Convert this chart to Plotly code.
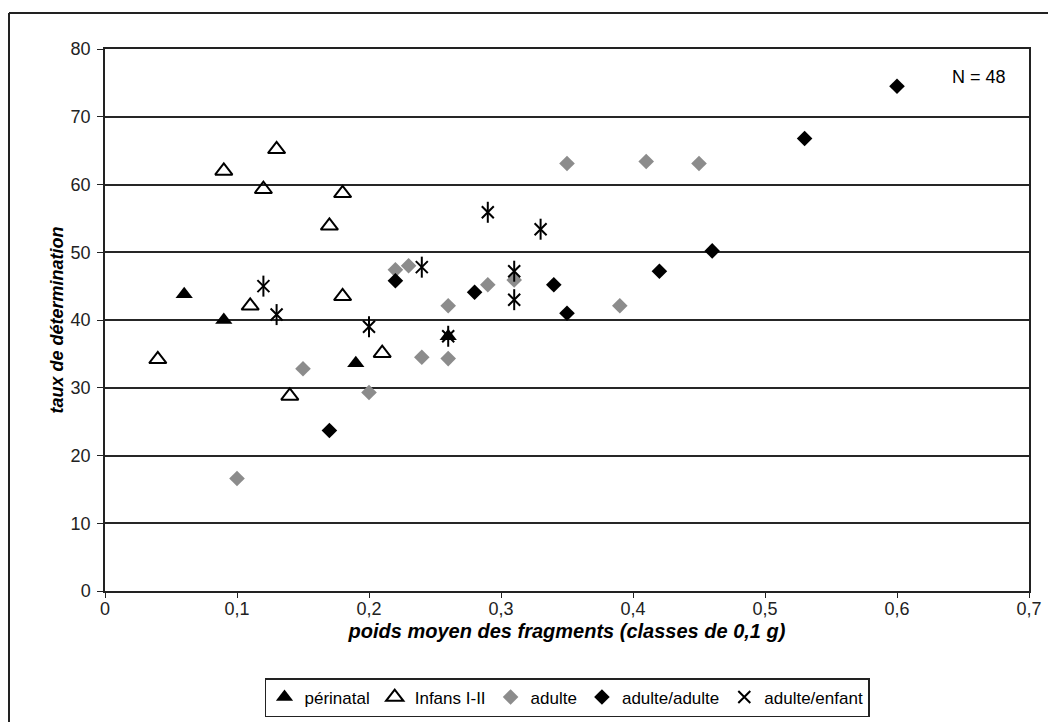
import plotly.graph_objects as go

# ---- data ----
perinatal_x = [0.06, 0.09, 0.19, 0.26]
perinatal_y = [43.8, 40.0, 33.6, 37.6]

infans_x = [0.04, 0.09, 0.11, 0.12, 0.13, 0.14, 0.17, 0.18, 0.18, 0.21]
infans_y = [34.2, 62.0, 42.1, 59.3, 65.2, 28.8, 53.9, 58.7, 43.5, 35.1]

adulte_x = [0.10, 0.15, 0.20, 0.22, 0.23, 0.24, 0.26, 0.26, 0.29, 0.31, 0.35, 0.39, 0.41, 0.45]
adulte_y = [16.6, 32.8, 29.3, 47.4, 48.0, 34.5, 34.3, 42.1, 45.2, 45.9, 63.1, 42.1, 63.4, 63.1]

aa_x = [0.17, 0.22, 0.28, 0.34, 0.35, 0.42, 0.46, 0.53, 0.60]
aa_y = [23.7, 45.8, 44.1, 45.2, 41.0, 47.2, 50.2, 66.8, 74.5]

ae_x = [0.12, 0.13, 0.20, 0.24, 0.26, 0.29, 0.31, 0.31, 0.33]
ae_y = [45.0, 40.8, 39.0, 47.8, 37.6, 55.9, 47.2, 43.0, 53.4]

x_ticks = [0, 0.1, 0.2, 0.3, 0.4, 0.5, 0.6, 0.7]
y_ticks = [0, 10, 20, 30, 40, 50, 60, 70, 80]

FONT = "Liberation Sans, Arial, sans-serif"

# page has an 8px body margin; figure sized so it fits the 1056x722 window
W, H = 1048, 714
L, T, PW, PH = 97, 41, 924, 542

fig = go.Figure()
fig.add_trace(go.Scatter(x=perinatal_x, y=perinatal_y, mode="markers", name="périnatal",
                         marker=dict(symbol="triangle-up", size=15, color="black")))
fig.add_trace(go.Scatter(x=infans_x, y=infans_y, mode="markers", name="Infans I-II",
                         marker=dict(symbol="triangle-up-open", size=15, color="black",
                                     line=dict(width=2, color="black"))))
fig.add_trace(go.Scatter(x=adulte_x, y=adulte_y, mode="markers", name="adulte",
                         marker=dict(symbol="diamond", size=12, color="#8c8c8c")))
fig.add_trace(go.Scatter(x=aa_x, y=aa_y, mode="markers", name="adulte/adulte",
                         marker=dict(symbol="diamond", size=12, color="black")))
fig.add_trace(go.Scatter(x=ae_x, y=ae_y, mode="markers", name="adulte/enfant", legendgroup="ae",
                         marker=dict(symbol="x-thin-open", size=12, color="black",
                                     line=dict(width=2, color="black"))))
fig.add_trace(go.Scatter(x=ae_x, y=ae_y, mode="markers", name="adulte/enfant", legendgroup="ae",
                         showlegend=False, hoverinfo="skip",
                         marker=dict(symbol="line-ns-open", size=15, color="black",
                                     line=dict(width=2, color="black"))))

fig.update_layout(
    width=W, height=H,
    margin=dict(l=L, r=W - L - PW, t=T, b=H - T - PH, autoexpand=False),
    paper_bgcolor="white", plot_bgcolor="white",
    separators=", ",
    font=dict(family=FONT, size=18, color="black"),
    showlegend=True,
    legend=dict(orientation="h", x=0.5, xanchor="center", y=-87 / PH, yanchor="top",
                bordercolor="#222", borderwidth=1.5, font=dict(size=17, family=FONT),
                itemwidth=30, tracegroupgap=0),
    xaxis=dict(range=[0, 0.7], tickvals=x_ticks, showgrid=False, zeroline=False, automargin=False,
               showline=True, linecolor="#222", linewidth=1.5, mirror=True,
               ticks="outside", ticklen=5, tickcolor="#222", ticklabelstandoff=-4,
               tickfont=dict(size=18, color="#222"),
               title=dict(text="<b><i>poids moyen des fragments (classes de 0,1 g)</i></b>",
                          font=dict(size=20), standoff=6)),
    yaxis=dict(range=[0, 80], tickvals=y_ticks, showgrid=True, gridcolor="#262626", gridwidth=1.6,
               zeroline=False, showline=True, linecolor="#222", linewidth=1.5, mirror=True,
               automargin=False,
               ticks="outside", ticklen=6, tickcolor="#222", ticklabelstandoff=3,
               tickfont=dict(size=18, color="#222"),
               title=dict(text="<b><i>taux de détermination</i></b>", font=dict(size=18), standoff=2)),
    annotations=[dict(text="N = 48", x=(942 - L) / PW, y=1 - 28 / PH, xref="paper", yref="paper",
                      showarrow=False, xanchor="left", yanchor="middle", font=dict(size=18))],
    shapes=[
        dict(type="line", xref="paper", yref="paper", x0=-(L - 1) / PW, x1=1.3,
             y0=1 + (T - 5) / PH, y1=1 + (T - 5) / PH, line=dict(color="#222", width=2)),
        dict(type="line", xref="paper", yref="paper", x0=-(L - 1) / PW, x1=-(L - 1) / PW,
             y0=1 + (T - 5) / PH, y1=-0.4, line=dict(color="#222", width=2)),
    ],
)

fig.write_html("out.html")
